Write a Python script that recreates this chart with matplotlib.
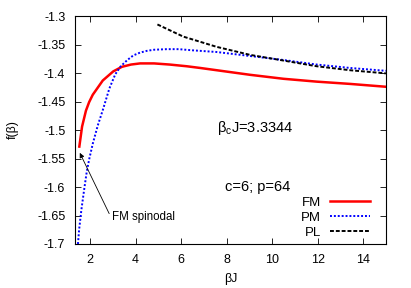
import numpy as np
import matplotlib
matplotlib.use("Agg")
import matplotlib.pyplot as plt

plt.rcParams['font.family'] = ['Liberation Sans', 'DejaVu Sans']
plt.rcParams['font.size'] = 9

# FM branch (starts at the spinodal)
fm_beta = [1.53, 1.65, 1.82, 1.96, 2.12, 2.56, 3.02, 3.4, 3.8, 4.2, 4.81, 5.5, 6.25,
           6.84, 7.57, 9.03, 10.5, 11.96, 13.43, 15.0]
fm_f = [-1.529, -1.494, -1.466, -1.451, -1.438, -1.413, -1.397, -1.389, -1.385, -1.383,
        -1.383, -1.385, -1.388, -1.391, -1.395, -1.403, -1.410, -1.415, -1.419, -1.424]

# PM branch
pm_beta = [1.47, 1.52, 1.62, 1.74, 1.86, 1.97, 2.12, 2.34, 2.56, 2.85, 3.11, 3.35,
           3.64, 3.9, 4.2, 4.49, 4.81, 5.37, 5.9, 6.5, 7.57, 9.03, 10.5, 11.96, 13.43, 15.0]
pm_f = [-1.700, -1.675, -1.640, -1.605, -1.572, -1.550, -1.524, -1.492, -1.465,
        -1.427, -1.402, -1.388, -1.377, -1.369, -1.364, -1.361, -1.359, -1.358,
        -1.358, -1.360, -1.363, -1.370, -1.377, -1.385, -1.391, -1.396]

# PL branch
pl_beta = [4.96, 6.10, 7.57, 9.03, 10.5, 11.96, 13.43, 15.0]
pl_f = [-1.3146, -1.336, -1.354, -1.368, -1.378, -1.388, -1.395, -1.4005]

xticks = [2, 4, 6, 8, 10, 12, 14]
yticks = [-1.7, -1.65, -1.6, -1.55, -1.5, -1.45, -1.4, -1.35, -1.3]

fig = plt.figure(figsize=(4.11, 2.88), dpi=100)
ax = fig.add_axes([0.1825, 0.1528, 0.7565, 0.7912])

ax.plot(fm_beta, fm_f, color='#ff0000', lw=1.8, label='FM')
ax.plot(pm_beta, pm_f, color='#0000ff', lw=1.4, ls=(0, (1, 1)), label='PM')
ax.plot(pl_beta, pl_f, color='black', lw=1.4, ls=(0, (2, 1)), label='PL')

ax.set_xlim(1.34, 15.0)
ax.set_ylim(-1.7, -1.3)
ax.set_xticks(xticks)
ax.set_yticks(yticks)
ax.set_yticklabels([f"{v:g}" for v in yticks])
ax.tick_params(direction='in', top=True, right=True, length=4.5, width=0.6,
               pad=7, labelsize=9)

ax.set_xlabel('βJ', labelpad=5)
ax.set_ylabel('f(β)', labelpad=13)

ax.text(7.6, -1.497, r'$\mathregular{\beta_c}$J=3.3344', ha='left', va='center', fontsize=10.5)
ax.text(7.95, -1.6, 'c=6; p=64', ha='left', va='center', fontsize=10.5)

ax.annotate('FM spinodal', xy=(1.55, -1.540), xytext=(2.98, -1.653),
            ha='left', va='center', fontsize=8.3,
            arrowprops=dict(arrowstyle='-|>', color='black', lw=0.6,
                            mutation_scale=7, shrinkA=0, shrinkB=0,
                            relpos=(-0.05, 0.8)))

ax.legend(loc='lower right', bbox_to_anchor=(0.965, 0.0), frameon=False,
          markerfirst=False, handlelength=3.0, handletextpad=0.7,
          labelspacing=0.2, borderaxespad=0.0, fontsize=9.5)

fig.savefig('out.png', dpi=100)
